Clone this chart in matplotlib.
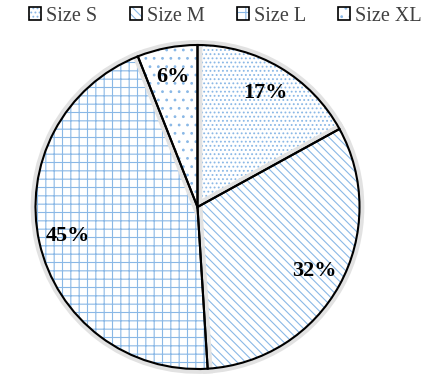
import matplotlib.pyplot as plt
import matplotlib.patheffects as pe
from matplotlib.patches import Patch

labels = ['Size S', 'Size M', 'Size L', 'Size XL']
shares = [17, 32, 45, 6]
hatches = ['....', '\\\\\\\\', '++', '..']

plt.rcParams['font.family'] = ['Liberation Serif', 'DejaVu Serif']
plt.rcParams['hatch.linewidth'] = 0.8

fig = plt.figure(figsize=(4.34, 3.75), dpi=100)
ax = fig.add_axes([35/434, 6/375, 325/434, 324/375])

hcol = '#8ab8e6'
# hatched fills
w1, _ = ax.pie(shares, startangle=90, counterclock=False, radius=1,
               wedgeprops=dict(facecolor='white', edgecolor=hcol, linewidth=0))
for w, h in zip(w1, hatches):
    w.set_hatch(h)
    w.set_path_effects([pe.Stroke(linewidth=7, foreground='#e2e2e2'), pe.Normal()])

# outlines and labels
w2, _, autot = ax.pie(shares, startangle=90, counterclock=False, radius=1,
                      autopct='%d%%', pctdistance=0.82,
                      wedgeprops=dict(fill=False, edgecolor='black', linewidth=1.5),
                      textprops=dict(fontsize=16, fontweight='bold', color='black'))

ax.set_xlim(-1, 1)
ax.set_ylim(-1, 1)
ax.set_aspect('equal')

handles = [(Patch(facecolor='white', edgecolor=hcol, hatch=h, linewidth=0),
            Patch(fill=False, edgecolor='black', linewidth=1.2)) for h in hatches]
leg = fig.legend(handles, labels, loc='upper center', bbox_to_anchor=(0.52, 1.03), ncol=4,
                 frameon=False, fontsize=14.5, handlelength=0.6, handleheight=0.6,
                 handletextpad=0.25, columnspacing=1.6)
for t in leg.get_texts():
    t.set_color('#404040')

fig.savefig('out.png', dpi=100)
